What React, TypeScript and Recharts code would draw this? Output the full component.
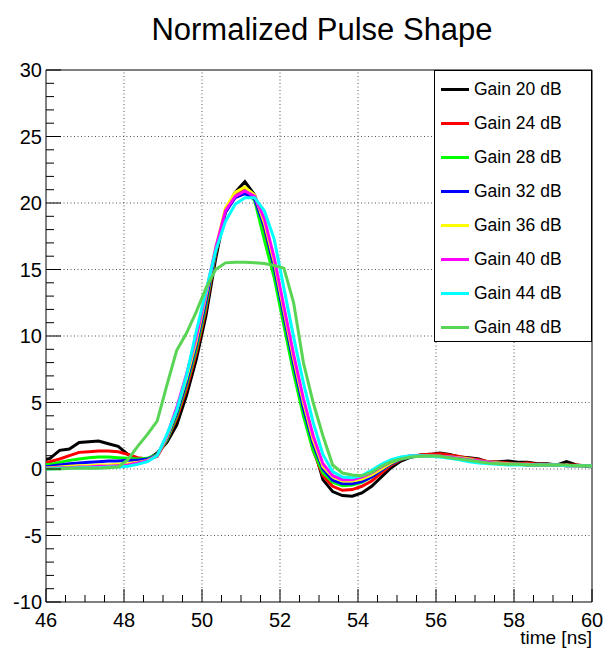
import { LineChart, Line, XAxis, YAxis, ReferenceLine, ReferenceArea } from "recharts";

// sample times [ns]
const times = [
  45.85, 46.1, 46.35, 46.6, 46.85, 47.1, 47.35, 47.6, 47.85, 48.1,
  48.35, 48.6, 48.85, 49.1, 49.35, 49.6, 49.85, 50.1, 50.35, 50.6,
  50.85, 51.1, 51.35, 51.6, 51.85, 52.1, 52.35, 52.6, 52.85, 53.1,
  53.35, 53.6, 53.85, 54.1, 54.35, 54.6, 54.85, 55.1, 55.35, 55.6,
  55.85, 56.1, 56.35, 56.6, 56.85, 57.1, 57.35, 57.6, 57.85, 58.1,
  58.35, 58.6, 58.85, 59.1, 59.35, 59.6, 59.85, 60.1,
];

const gain20 = [
  0.6, 0.8, 1.4, 1.5, 2.0, 2.05, 2.1, 1.9, 1.7, 1.1,
  0.75, 0.7, 1.2, 2.0, 3.3, 5.5, 8.2, 11.5, 15.8, 19.4,
  20.8, 21.6, 20.6, 18.3, 15.0, 11.3, 7.7, 4.6, 1.8, -0.8,
  -1.7, -2.0, -2.05, -1.8, -1.3, -0.6, 0.1, 0.6, 0.9, 1.05,
  1.1, 1.2, 1.1, 0.9, 0.85, 0.75, 0.5, 0.55, 0.6, 0.5,
  0.5, 0.4, 0.4, 0.3, 0.55, 0.3, 0.2, 0.15,
];
const gain24 = [
  0.4, 0.55, 0.75, 1.0, 1.25, 1.3, 1.35, 1.35, 1.3, 1.1,
  0.85, 0.75, 0.95, 2.2, 3.8, 6.0, 8.7, 12.0, 16.2, 19.4,
  20.6, 21.1, 20.5, 18.0, 14.8, 11.0, 7.4, 4.3, 1.4, -0.5,
  -1.3, -1.6, -1.55, -1.3, -0.9, -0.3, 0.3, 0.7, 0.95, 1.05,
  1.1, 1.15, 1.05, 0.95, 0.8, 0.7, 0.55, 0.5, 0.45, 0.4,
  0.45, 0.35, 0.35, 0.3, 0.3, 0.3, 0.25, 0.2,
];
const gain28 = [
  0.25, 0.35, 0.5, 0.65, 0.75, 0.85, 0.9, 0.9, 0.85, 0.8,
  0.75, 0.8, 1.1, 2.2, 4.0, 6.3, 9.0, 12.3, 16.3, 19.3,
  20.5, 20.9, 20.2, 17.2, 14.4, 10.8, 7.2, 4.0, 1.4, -0.3,
  -1.0, -1.25, -1.2, -1.0, -0.6, -0.1, 0.4, 0.75, 0.9, 1.0,
  1.0, 0.95, 0.9, 0.85, 0.75, 0.6, 0.5, 0.4, 0.35, 0.35,
  0.3, 0.3, 0.3, 0.3, 0.25, 0.25, 0.25, 0.2,
];
const gain32 = [
  0.15, 0.2, 0.3, 0.4, 0.45, 0.5, 0.55, 0.6, 0.6, 0.65,
  0.65, 0.75, 1.05, 2.3, 4.2, 6.5, 9.3, 12.6, 16.4, 19.3,
  20.4, 20.7, 20.3, 18.2, 15.2, 11.5, 7.9, 4.6, 1.9, 0.0,
  -0.85, -1.1, -1.1, -0.95, -0.6, -0.1, 0.4, 0.75, 0.9, 1.0,
  1.0, 0.95, 0.9, 0.85, 0.75, 0.6, 0.5, 0.45, 0.4, 0.35,
  0.35, 0.3, 0.3, 0.3, 0.25, 0.25, 0.25, 0.2,
];
const gain36 = [
  0.05, 0.1, 0.15, 0.2, 0.25, 0.25, 0.3, 0.3, 0.35, 0.4,
  0.5, 0.65, 1.0, 2.4, 4.4, 6.8, 9.6, 13.0, 16.6, 19.6,
  20.8, 21.2, 20.6, 18.5, 15.6, 11.9, 8.3, 5.0, 2.2, 0.2,
  -0.6, -0.9, -0.9, -0.75, -0.45, 0.0, 0.45, 0.8, 0.95, 1.0,
  1.0, 0.95, 0.9, 0.85, 0.75, 0.6, 0.5, 0.45, 0.4, 0.35,
  0.35, 0.3, 0.3, 0.3, 0.25, 0.25, 0.25, 0.2,
];
const gain40 = [
  0.0, 0.05, 0.1, 0.1, 0.15, 0.15, 0.2, 0.2, 0.25, 0.3,
  0.45, 0.6, 1.0, 2.5, 4.6, 7.1, 9.9, 13.2, 16.6, 19.4,
  20.5, 20.9, 20.5, 18.8, 15.9, 12.2, 8.6, 5.3, 2.5, 0.4,
  -0.5, -0.8, -0.8, -0.6, -0.3, 0.15, 0.55, 0.85, 1.0, 1.0,
  1.0, 0.95, 0.9, 0.8, 0.7, 0.6, 0.5, 0.4, 0.35, 0.35,
  0.3, 0.3, 0.3, 0.3, 0.25, 0.25, 0.25, 0.2,
];
const gain44 = [
  0.0, 0.0, 0.05, 0.05, 0.1, 0.1, 0.1, 0.15, 0.15, 0.2,
  0.35, 0.55, 1.0, 2.6, 4.4, 7.0, 10.3, 13.4, 16.4, 18.6,
  19.9, 20.4, 20.4, 19.4, 17.3, 13.6, 9.9, 6.5, 3.5, 1.1,
  -0.2, -0.6, -0.65, -0.5, -0.1, 0.35, 0.7, 0.9, 1.0, 1.0,
  0.95, 0.9, 0.8, 0.7, 0.55, 0.45, 0.4, 0.35, 0.3, 0.3,
  0.3, 0.3, 0.3, 0.3, 0.25, 0.25, 0.25, 0.2,
];
const gain48 = [
  0.0, 0.0, 0.0, 0.05, 0.05, 0.05, 0.05, 0.1, 0.15, 0.7,
  1.7, 2.6, 3.6, 6.3, 8.9, 10.2, 11.8, 13.6, 15.0, 15.5,
  15.55, 15.55, 15.5, 15.45, 15.3, 15.1, 12.5, 8.0, 5.0, 2.5,
  0.3, -0.3, -0.45, -0.5, -0.25, 0.2, 0.55, 0.75, 0.9, 0.95,
  1.0, 0.95, 0.85, 0.75, 0.65, 0.55, 0.45, 0.4, 0.35, 0.35,
  0.3, 0.3, 0.3, 0.3, 0.3, 0.25, 0.25, 0.2,
];

const seriesNames = ["Gain 20 dB", "Gain 24 dB", "Gain 28 dB", "Gain 32 dB", "Gain 36 dB", "Gain 40 dB", "Gain 44 dB", "Gain 48 dB"];
const seriesColors = ["#000000", "#ff0000", "#00ff00", "#0000ff", "#ffff00", "#ff00ff", "#00ffff", "#59d454"];
const seriesValues = [gain20, gain24, gain28, gain32, gain36, gain40, gain44, gain48];

// axis ticks (minor + major)
const xTicks = [46, 46.5, 47, 47.5, 48, 48.5, 49, 49.5, 50, 50.5, 51, 51.5, 52, 52.5, 53, 53.5, 54, 54.5, 55, 55.5, 56, 56.5, 57, 57.5, 58, 58.5, 59, 59.5, 60];
const yTicks = [-10, -9, -8, -7, -6, -5, -4, -3, -2, -1, 0, 1, 2, 3, 4, 5, 6, 7, 8, 9, 10, 11, 12, 13, 14, 15, 16, 17, 18, 19, 20, 21, 22, 23, 24, 25, 26, 27, 28, 29, 30];
const xGrid = [48, 50, 52, 54, 56, 58];
const yGrid = [-5, 0, 5, 10, 15, 20, 25];

const data = times.map((t, i) => {
  const row: Record<string, number> = { t };
  seriesValues.forEach((s, k) => {
    row["s" + k] = s[i];
  });
  return row;
});

const FONT = '"Liberation Sans", Arial, Helvetica, sans-serif';

function XTick(props: any) {
  const { x, y, payload } = props;
  const v = payload.value;
  const major = v % 2 === 0;
  return (
    <g>
      <line x1={x} x2={x} y1={y} y2={y - (major ? 13 : 7)} stroke="#000" />
      {major && (
        <text x={x} y={y + 25} textAnchor="middle" fontSize={20} fontFamily={FONT} fill="#000">
          {v}
        </text>
      )}
    </g>
  );
}

function YTick(props: any) {
  const { x, y, payload } = props;
  const v = payload.value;
  const major = v % 5 === 0;
  return (
    <g>
      <line x1={x} x2={x + (major ? 15 : 8)} y1={y} y2={y} stroke="#000" />
      {major && (
        <text x={x - 4} y={y + 7} textAnchor="end" fontSize={20} fontFamily={FONT} fill="#000">
          {v}
        </text>
      )}
    </g>
  );
}

export default function App() {
  return (
    <div style={{ position: "absolute", left: 0, top: 0, width: 606, height: 652, background: "#fff", fontFamily: FONT }}>
      <div style={{ position: "absolute", left: 0, top: 12, width: 644, textAlign: "center", fontSize: 31, lineHeight: "36px" }}>
        Normalized Pulse Shape
      </div>
      <LineChart width={606} height={652} data={data} margin={{ top: 70, right: 14, left: 6, bottom: 20 }}>
        <XAxis
          dataKey="t"
          type="number"
          domain={[46, 60]}
          allowDataOverflow
          ticks={xTicks}
          interval={0}
          tick={<XTick />}
          tickLine={false}
          axisLine={false}
          tickSize={0}
          tickMargin={0}
          height={30}
        />
        <YAxis
          type="number"
          domain={[-10, 30]}
          allowDataOverflow
          ticks={yTicks}
          interval={0}
          tick={<YTick />}
          tickLine={false}
          axisLine={false}
          tickSize={0}
          tickMargin={0}
          width={40}
        />
        {xGrid.map((v) => (
          <ReferenceLine key={"gx" + v} x={v} stroke="#555" strokeDasharray="1 2.5" />
        ))}
        {yGrid.map((v) => (
          <ReferenceLine key={"gy" + v} y={v} stroke="#555" strokeDasharray="1 2.5" />
        ))}
        {seriesNames.map((name, k) => (
          <Line
            key={name}
            name={name}
            dataKey={"s" + k}
            type="linear"
            stroke={seriesColors[k]}
            strokeWidth={3}
            dot={false}
            activeDot={false}
            isAnimationActive={false}
          />
        ))}
        <ReferenceArea x1={46} x2={60} y1={-10} y2={30} fill="none" stroke="#000" strokeWidth={1} ifOverflow="visible" />
      </LineChart>
      <div style={{ position: "absolute", left: 592, top: 627, transform: "translateX(-100%)", fontSize: 19, lineHeight: "22px", whiteSpace: "nowrap" }}>
        time [ns]
      </div>
      <div
        style={{
          position: "absolute",
          left: 434,
          top: 70,
          width: 158,
          height: 272,
          background: "#fff",
          border: "1px solid #000",
          boxSizing: "border-box",
        }}
      >
        {seriesNames.map((name, k) => (
          <div key={name} style={{ position: "absolute", left: 6, top: 7 + k * 34.05, height: 22, display: "flex", alignItems: "center" }}>
            <div style={{ width: 28, height: 3, background: seriesColors[k] }} />
            <span style={{ marginLeft: 5, fontSize: 17.5, whiteSpace: "nowrap" }}>{name}</span>
          </div>
        ))}
      </div>
    </div>
  );
}
